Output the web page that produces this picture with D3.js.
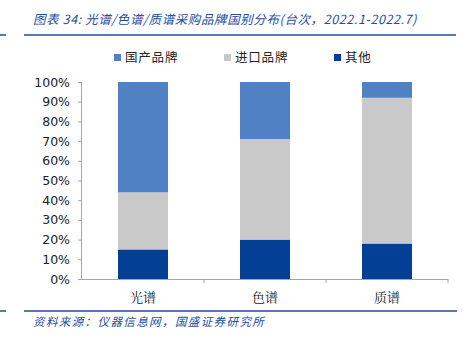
<!DOCTYPE html>
<html><head><meta charset="utf-8">
<script src="https://cdn.jsdelivr.net/npm/d3@7"></script>
<style>body{margin:0;background:#fff}svg{display:block}</style>
</head><body>
<svg id="c" width="468" height="341"></svg>
<script>
const categories = ["光谱", "色谱", "质谱"];
const seriesNames = ["其他", "进口品牌", "国产品牌"];
const other = [15, 20, 18];
const imported = [29, 51, 74];
const domestic = [56, 29, 8];
const yTicks = [0,10,20,30,40,50,60,70,80,90,100];
const colors = {"国产品牌":"#4F81C4","进口品牌":"#C9C9C9","其他":"#023F95"};
const legendOrder = ["国产品牌","进口品牌","其他"];

(function(){
const svg = d3.select("#c");
const mLeft = 82, mRight = 448, mTop = 82, mBottom = 279;

// title
svg.append("text").attr("x", 33).attr("y", 24)
  .attr("font-family","'Noto Sans CJK SC', sans-serif").attr("font-style","italic")
  .attr("font-size", 12.5).attr("letter-spacing", 0.6).attr("fill","#1F4E9A")
  .text("图表 34:  光谱/色谱/质谱采购品牌国别分布(台次，2022.1-2022.7)");
svg.append("line").attr("x1",24).attr("x2",456).attr("y1",35).attr("y2",35).attr("stroke","#1F4E9A").attr("stroke-width",1.5);
svg.append("line").attr("x1",0).attr("x2",6).attr("y1",35).attr("y2",35).attr("stroke","#1F4E9A").attr("stroke-width",1.5);

const x = d3.scaleBand().domain(categories).range([mLeft, mRight]).paddingInner(0).paddingOuter(0);
const y = d3.scaleLinear().domain([0,100]).range([mBottom, mTop]);
const bw = 50;

const rows = categories.map((c,i)=>({cat:c, "其他":other[i], "进口品牌":imported[i], "国产品牌":domestic[i]}));
const stack = d3.stack().keys(seriesNames)(rows);

svg.append("g").selectAll("g").data(stack).join("g").attr("fill", d=>colors[d.key])
  .selectAll("rect").data(d=>d).join("rect")
  .attr("x", d=>x(d.data.cat) + x.bandwidth()/2 - bw/2)
  .attr("width", bw)
  .attr("y", d=>y(d[1]))
  .attr("height", d=>y(d[0]) - y(d[1]));

// y axis
const ya = svg.append("g").attr("transform",`translate(${mLeft},0)`)
  .call(d3.axisLeft(y).tickValues(yTicks).tickFormat(d=>d+"%").tickSize(4).tickPadding(8));
ya.select(".domain").attr("stroke","#A6A6A6").attr("d",`M-0.5,${mTop}V${mBottom}`);
ya.selectAll(".tick line").attr("stroke","#A6A6A6");
ya.selectAll("text").attr("font-family","Tahoma, 'DejaVu Sans', sans-serif").attr("font-size",12.5).attr("fill","#222");

// x axis
const xa = svg.append("g").attr("transform",`translate(0,${mBottom})`);
xa.append("line").attr("x1",mLeft).attr("x2",mRight).attr("y1",0.5).attr("y2",0.5).attr("stroke","#A6A6A6");
const bounds = categories.map(c=>x(c)+x.bandwidth());
xa.selectAll(".tk").data(bounds).join("line").attr("x1",d=>d).attr("x2",d=>d).attr("y1",0).attr("y2",4).attr("stroke","#A6A6A6");
xa.selectAll(".lb").data(categories).join("text")
  .attr("x", d=>x(d)+x.bandwidth()/2).attr("y", 23).attr("text-anchor","middle")
  .attr("font-family","'Noto Serif CJK SC','Noto Sans CJK SC', serif").attr("font-size",13).attr("fill","#222")
  .text(d=>d);

// legend
const lx = [114, 224, 334];
const lg = svg.append("g").selectAll("g").data(legendOrder).join("g")
  .attr("transform",(d,i)=>`translate(${lx[i]},58)`);
lg.append("rect").attr("x",0).attr("y",-4).attr("width",7).attr("height",7).attr("fill",d=>colors[d]);
lg.append("text").attr("x",11).attr("y",4).attr("font-family","'Noto Sans CJK SC', sans-serif").attr("font-size",12.5).attr("letter-spacing",0.8).attr("fill","#222").text(d=>d);

// footer
svg.append("line").attr("x1",24).attr("x2",457).attr("y1",311).attr("y2",311).attr("stroke","#1F4E9A").attr("stroke-width",1.5);
svg.append("line").attr("x1",0).attr("x2",6).attr("y1",311).attr("y2",311).attr("stroke","#1F4E9A").attr("stroke-width",1.5);
svg.append("text").attr("x",33).attr("y",326)
  .attr("font-family","'Noto Sans CJK SC', sans-serif").attr("font-style","italic")
  .attr("font-size",11.5).attr("letter-spacing",1.4).attr("fill","#1F4E9A")
  .text("资料来源：仪器信息网，国盛证券研究所");
})();
</script>
</body></html>
